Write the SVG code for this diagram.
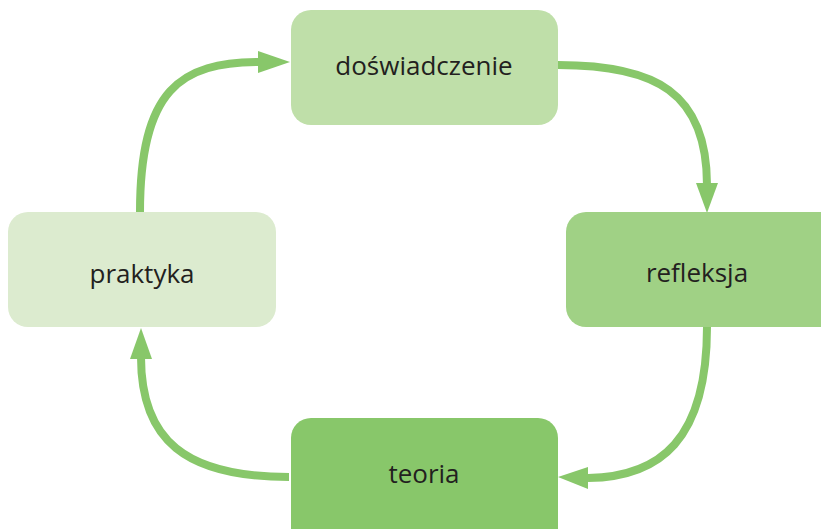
<svg xmlns="http://www.w3.org/2000/svg" width="821" height="529" viewBox="0 0 821 529">
<defs>
<style>
.lbl{font-family:"Open Sans","Liberation Sans",sans-serif;font-size:26px;fill:#231f20;text-anchor:middle}
.conn{fill:none;stroke:#88c76a;stroke-width:8}
.head{fill:#88c76a}
</style>
</defs>
<g id="connectors">
<path class="conn" d="M140,212 C140,90 180,62 260,62"/>
<polygon class="head" points="258,51 290,62 258,73"/>
<path class="conn" d="M558,65 C655,65 707,92 707,185"/>
<polygon class="head" points="696,183 718,183 707,213"/>
<path class="conn" d="M707,327 C707,440 660,477 588,478"/>
<polygon class="head" points="588,467 558,477 588,489"/>
<path class="conn" d="M289,477 C185,477 141,440 141,357"/>
<polygon class="head" points="130,359 141,328 152,359"/>
</g>
<g id="node-doswiadczenie">
<rect x="291" y="10" width="267" height="115" rx="20" fill="#bfdfa9"/>
<text class="lbl" x="424" y="75">doświadczenie</text>
</g>
<g id="node-praktyka">
<rect x="8" y="212" width="268" height="115" rx="20" fill="#dcebcf"/>
<text class="lbl" x="142" y="283">praktyka</text>
</g>
<g id="node-refleksja">
<rect x="566" y="212" width="275" height="115" rx="20" fill="#a0d185"/>
<text class="lbl" x="697" y="282">refleksja</text>
</g>
<g id="node-teoria">
<rect x="291" y="418" width="267" height="130" rx="20" fill="#88c76a"/>
<text class="lbl" x="424" y="483">teoria</text>
</g>
</svg>
